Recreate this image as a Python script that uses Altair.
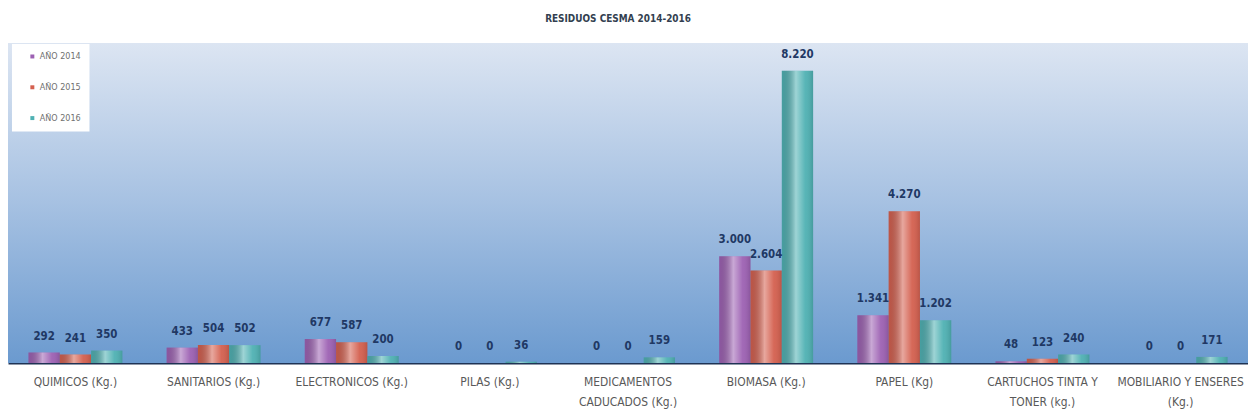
import altair as alt
import pandas as pd

categories = [
    "QUIMICOS (Kg.)",
    "SANITARIOS (Kg.)",
    "ELECTRONICOS (Kg.)",
    "PILAS (Kg.)",
    "MEDICAMENTOS\nCADUCADOS (Kg.)",
    "BIOMASA (Kg.)",
    "PAPEL (Kg)",
    "CARTUCHOS TINTA Y\nTONER (kg.)",
    "MOBILIARIO Y ENSERES\n(Kg.)",
]
years = ["AÑO 2014", "AÑO 2015", "AÑO 2016"]
v2014 = [292, 433, 677, 0, 0, 3000, 1341, 48, 0]
v2015 = [241, 504, 587, 0, 0, 2604, 4270, 123, 0]
v2016 = [350, 502, 200, 36, 159, 8220, 1202, 240, 171]
colors = ["#9d61b3", "#d4604f", "#4fb1b3"]

rows = []
for yr, vals in zip(years, [v2014, v2015, v2016]):
    for c, v in zip(categories, vals):
        rows.append({"cat": c, "year": yr, "value": v,
                     "label": f"{v:,}".replace(",", ".")})
df = pd.DataFrame(rows)

W, H = 1248, 322
FONT = "Liberation Sans Narrow, Arial Narrow, DejaVu Sans Condensed, sans-serif"

x_enc = alt.X("cat:N", sort=categories, title=None,
              scale=alt.Scale(paddingInner=0.32, paddingOuter=0.148),
              axis=alt.Axis(labelAngle=0, ticks=False, grid=False,
                            domainColor="#1f3354", domainWidth=2,
                            labelColor="#595959", labelFont=FONT, labelFontSize=12,
                            labelPadding=14, labelLimit=400, labelOverlap=False,
                            labelLineHeight=20,
                            labelExpr="split(datum.label, '\\n')"))
xo_enc = alt.XOffset("year:N", sort=years,
                     scale=alt.Scale(paddingInner=0, paddingOuter=0))
y_enc = alt.Y("value:Q", axis=None, scale=alt.Scale(domain=[0, 9000]))

bg = alt.Chart(alt.Data(values=[{}])).mark_rect(
    fill=alt.Gradient(gradient="linear", x1=0, y1=0, x2=0, y2=1,
                      stops=[alt.GradientStop(color="#dce5f2", offset=0),
                             alt.GradientStop(color="#a6c1e2", offset=0.5),
                             alt.GradientStop(color="#6b9acf", offset=1)])
).encode(x=alt.value(0), x2=alt.value(W), y=alt.value(0), y2=alt.value(H))

bars = alt.Chart(df).mark_bar().encode(
    x=x_enc, xOffset=xo_enc, y=y_enc,
    color=alt.Color("year:N", sort=years,
                    scale=alt.Scale(domain=years, range=colors),
                    legend=alt.Legend(title=None, orient="none", legendX=4, legendY=1,
                                      fillColor="white", padding=8, rowPadding=21,
                                      symbolType="square", symbolSize=16,
                                      symbolOffset=8,
                                      symbolStrokeWidth=0, labelFont=FONT,
                                      labelFontSize=9, labelColor="#707070",
                                      labelOffset=3)),
)

gloss = alt.Chart(df).mark_bar(
    fill=alt.Gradient(gradient="linear", x1=0, y1=0, x2=1, y2=0,
                      stops=[alt.GradientStop(color="rgba(0,0,0,0.10)", offset=0),
                             alt.GradientStop(color="rgba(255,255,255,0.45)", offset=0.45),
                             alt.GradientStop(color="rgba(255,255,255,0.05)", offset=0.75),
                             alt.GradientStop(color="rgba(0,0,0,0.12)", offset=1)])
).encode(x=x_enc, xOffset=xo_enc, y=y_enc)

labels = alt.Chart(df).mark_text(
    dy=-16, baseline="middle", align="center", font=FONT, fontSize=11.5,
    fontWeight="bold", color="#1f3864"
).encode(x=x_enc, xOffset=xo_enc, y=y_enc, text="label:N")

chart = alt.layer(bg, bars, gloss, labels).properties(
    width=W, height=H,
    padding={"left": 0, "right": 0, "top": 5, "bottom": 0},
    title=alt.Title("RESIDUOS CESMA 2014-2016", font=FONT, fontSize=10,
                    fontWeight="bold", color="#333f50", offset=19, anchor="middle",
                    dx=-10),
).configure_view(stroke=None)

chart.save("out.html", embed_options={"renderer": "svg", "actions": False})
